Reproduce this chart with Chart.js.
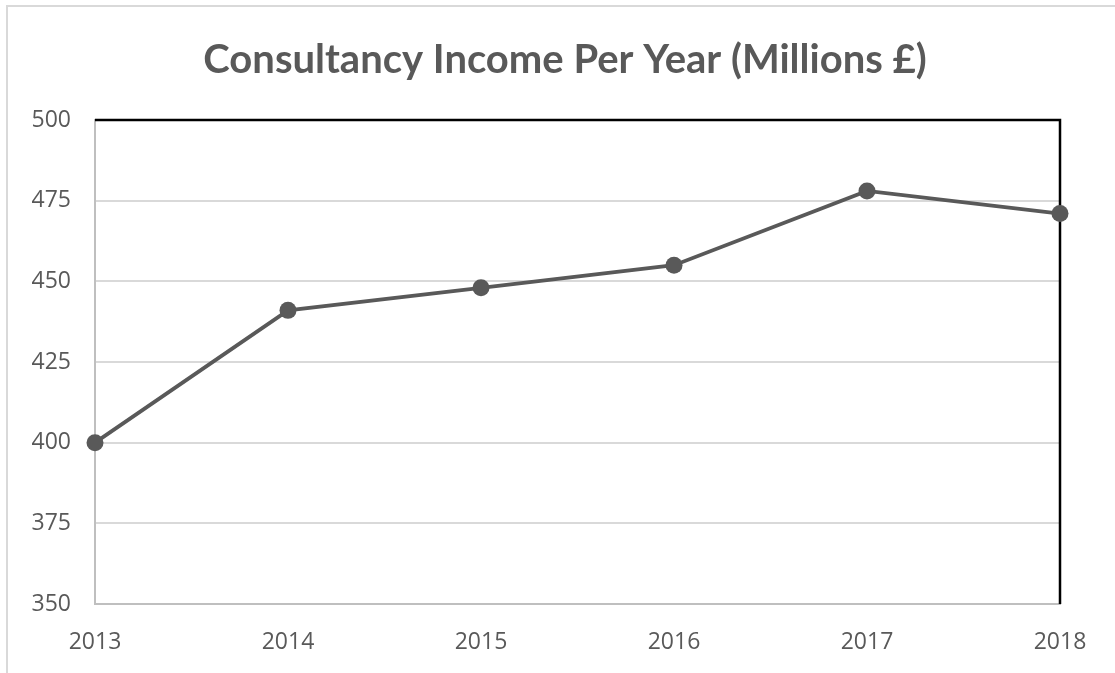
<!DOCTYPE html>
<html>
<head>
<meta charset="utf-8">
<script src="https://cdn.jsdelivr.net/npm/chart.js@4/dist/chart.umd.min.js"></script>
<style>
    html, body { margin: 0; padding: 0; background: #fff; }
    #wrap { position: relative; width: 1115px; height: 673px; }
    #frame {
        position: absolute; left: 6px; top: 5px; right: 0; bottom: 0;
        border-top: 2px solid #d9d9d9; border-left: 2px solid #d9d9d9;
    }
    canvas { position: absolute; left: 0; top: 0; }
</style>
</head>
<body>
<div id="wrap">
    <div id="frame"></div>
    <canvas id="incomeChart" width="1115" height="673"></canvas>
</div>
<script>
const years = ['2013', '2014', '2015', '2016', '2017', '2018'];
const income = [400, 441, 448, 455, 478, 471];
const yTicks = [350, 375, 400, 425, 450, 475, 500];
const chartTitle = 'Consultancy Income Per Year (Millions £)';

const textGrey = '#595959';
const tickFont = { family: 'Open Sans', size: 23 };

// black edge along the top and right of the plot, under the line
const plotEdge = {
    id: 'plotEdge',
    beforeDatasetsDraw(chart) {
        const { ctx, chartArea: a } = chart;
        ctx.save();
        ctx.strokeStyle = '#000';
        ctx.lineWidth = 2.5;
        ctx.beginPath();
        ctx.moveTo(a.left, a.top);
        ctx.lineTo(a.right, a.top);
        ctx.lineTo(a.right, a.bottom);
        ctx.stroke();
        ctx.restore();
    }
};

// title sits centred over the whole frame, not just the plot
const frameTitle = {
    id: 'frameTitle',
    afterDraw(chart) {
        const ctx = chart.ctx;
        ctx.save();
        ctx.fillStyle = textGrey;
        ctx.font = 'bold 40px Lato';
        ctx.textAlign = 'center';
        ctx.textBaseline = 'middle';
        ctx.fillText(chartTitle, 565, 60);
        ctx.restore();
    }
};

new Chart(document.getElementById('incomeChart'), {
    type: 'line',
    data: {
        labels: years,
        datasets: [{
            data: income,
            borderColor: textGrey,
            backgroundColor: textGrey,
            borderWidth: 3.8,
            pointRadius: 8.5,
            pointBackgroundColor: textGrey,
            pointBorderWidth: 0,
            tension: 0,
            clip: false
        }]
    },
    options: {
        responsive: false,
        animation: false,
        layout: { padding: { left: 0, right: 55, top: 120, bottom: 0 } },
        plugins: {
            legend: { display: false },
            tooltip: { enabled: false },
            title: { display: false }
        },
        scales: {
            x: {
                offset: false,
                grid: { display: false },
                border: { display: true, color: '#bfbfbf', width: 2 },
                ticks: { color: textGrey, font: tickFont, padding: 17, maxRotation: 0 },
                afterFit(scale) { scale.height = 69; }
            },
            y: {
                min: 350,
                max: 500,
                afterBuildTicks(scale) { scale.ticks = yTicks.map(v => ({ value: v })); },
                grid: { color: '#d9d9d9', lineWidth: 2, drawTicks: false },
                border: { display: true, color: '#bfbfbf', width: 2 },
                ticks: { color: textGrey, font: tickFont, padding: 24 },
                afterFit(scale) { scale.width = 95; }
            }
        }
    },
    plugins: [plotEdge, frameTitle]
});
</script>
</body>
</html>
